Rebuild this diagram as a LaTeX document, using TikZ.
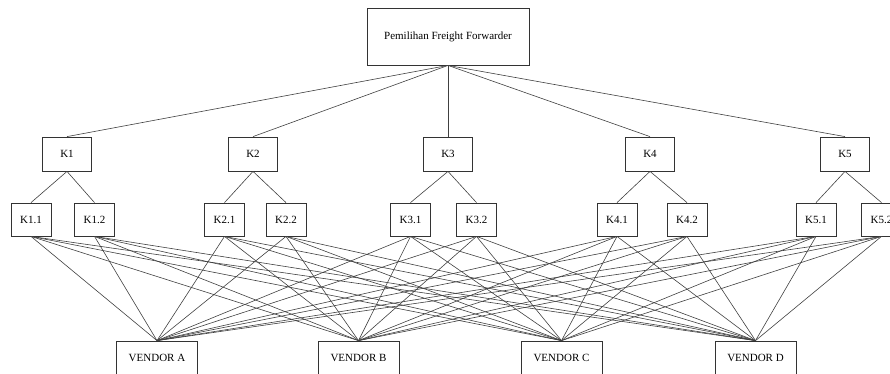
\documentclass[tikz,border=0pt]{standalone}
\usepackage{fontspec}
\setmainfont{Liberation Serif}
\begin{document}
\begin{tikzpicture}[x=1pt,y=-1pt,
  box/.style={draw=black!80,line width=0.8pt,fill=white,inner sep=0pt,font=\fontsize{11}{13}\selectfont},
  crit/.style={box,minimum width=49pt,minimum height=34pt},
  sub/.style={box,minimum width=40pt,minimum height=33pt},
  vend/.style={box,minimum width=81pt,minimum height=34pt},
  link/.style={draw=black!75,line width=0.6pt}]
\useasboundingbox (0,0) rectangle (890,373);
\node[box,minimum width=162pt,minimum height=57pt] (top) at (448,36.5) {Pemilihan Freight Forwarder};
\node[crit] (k1) at (67,154) {K1};
\node[crit] (k2) at (253,154) {K2};
\node[crit] (k3) at (448,154) {K3};
\node[crit] (k4) at (650,154) {K4};
\node[crit] (k5) at (845,154) {K5};
\node[sub] (k11) at (31,219.5) {K1.1};
\node[sub] (k12) at (94.5,219.5) {K1.2};
\node[sub] (k21) at (224.5,219.5) {K2.1};
\node[sub] (k22) at (286,219.5) {K2.2};
\node[sub] (k31) at (410.5,219.5) {K3.1};
\node[sub] (k32) at (476.5,219.5) {K3.2};
\node[sub] (k41) at (617,219.5) {K4.1};
\node[sub] (k42) at (687,219.5) {K4.2};
\node[sub] (k51) at (816,219.5) {K5.1};
\node[sub] (k52) at (881.5,219.5) {K5.2};
\node[vend] (va) at (157,358) {VENDOR A};
\node[vend] (vb) at (358.5,358) {VENDOR B};
\node[vend] (vc) at (561.5,358) {VENDOR C};
\node[vend] (vd) at (755.5,358) {VENDOR D};
\begin{scope}[on background layer/.style={}]
\foreach \k in {k1,k2,k3,k4,k5}{\draw[link] (top.south) -- (\k.north);}
\foreach \i in {1,2,3,4,5}{
  \draw[link] (k\i.south) -- (k\i1.north);
  \draw[link] (k\i.south) -- (k\i2.north);
  \foreach \j in {1,2}{
    \foreach \v in {va,vb,vc,vd}{\draw[link] (k\i\j.south) -- (\v.north);}
  }
}
\end{scope}
\end{tikzpicture}
\end{document}
